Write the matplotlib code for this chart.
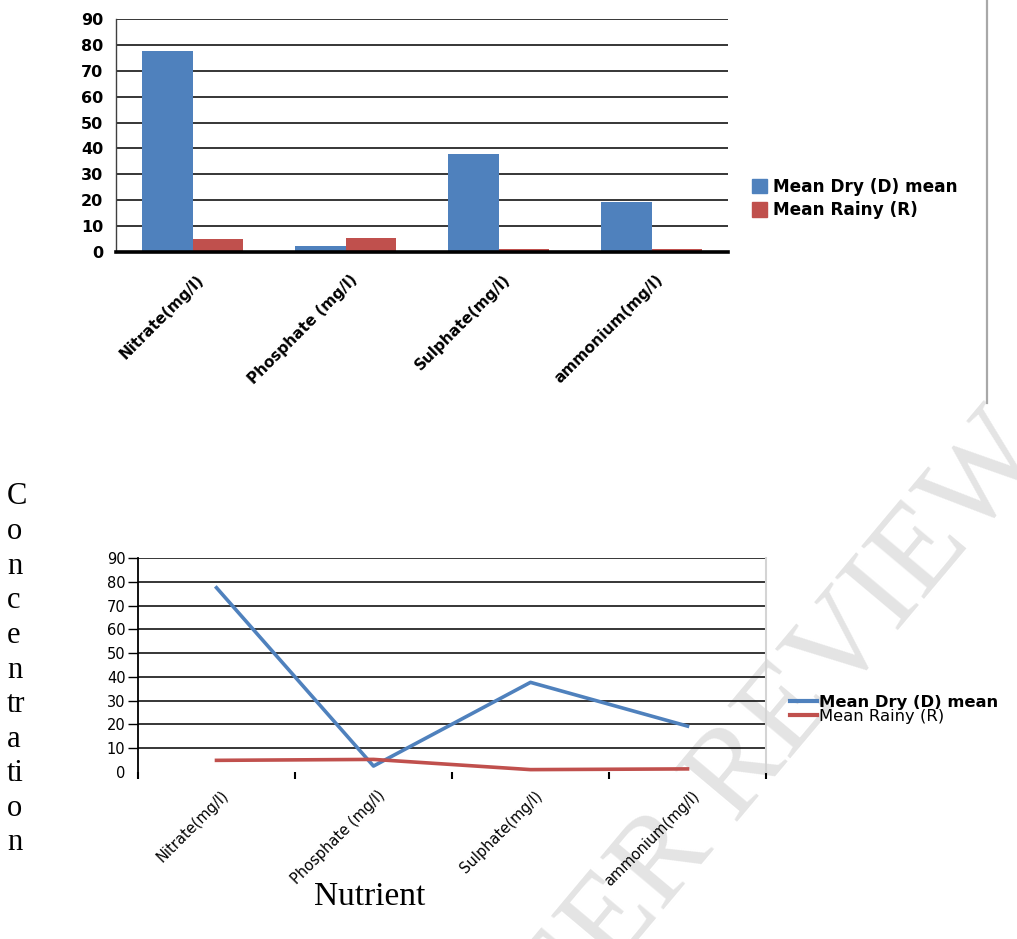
import matplotlib
matplotlib.use("Agg")
import matplotlib.pyplot as plt
import numpy as np
from matplotlib.lines import Line2D
from matplotlib.patches import Patch
from matplotlib.transforms import ScaledTranslation

# ---- data ----
nutrients = ["Nitrate(mg/l)", "Phosphate (mg/l)", "Sulphate(mg/l)", "ammonium(mg/l)"]
dry_mean = [77.5, 2.5, 37.7, 19.3]
rainy_mean = [4.9, 5.3, 1.0, 1.3]
series_names = ["Mean Dry (D) mean", "Mean Rainy (R)"]
y_ticks = [0, 10, 20, 30, 40, 50, 60, 70, 80, 90]
axis_letters = ["C", "o", "n", "c", "e", "n", "tr", "a", "ti", "o", "n"]
x_title = "Nutrient"
watermark = "PEER REVIEW"

BLUE = "#4F81BD"
RED = "#C0504D"
W, H = 1017, 939

fig = plt.figure(figsize=(W / 100, H / 100), dpi=100)


def fx(px):
    return px / W


def fy(py):
    return 1 - py / H


def px_offset(dx, dy):
    # offset in pixels (dy positive = downwards)
    return ScaledTranslation(dx / 100, -dy / 100, fig.dpi_scale_trans)


# ---- watermark ----
fig.text(fx(760), fy(748), watermark, fontsize=90, family="Liberation Serif",
         color="#e4e4e4", rotation=50, ha="center", va="center",
         rotation_mode="anchor", zorder=-5)

x = np.arange(len(nutrients))

# ---- top: grouped bar chart ----
ax1 = fig.add_axes([fx(116), fy(252), fx(728) - fx(116), fy(19) - fy(252)])
ax1.set_facecolor("none")
bw = 0.33
ax1.bar(x - bw / 2, dry_mean, bw, color=BLUE, zorder=3)
ax1.bar(x + bw / 2, rainy_mean, bw, color=RED, zorder=3)
ax1.set_xlim(-0.5, 3.5)
ax1.set_ylim(0, 90)
for v in y_ticks[1:]:
    ax1.axhline(v, color="black", lw=1.1, zorder=1)
ax1.set_yticks(y_ticks)
ax1.tick_params(axis="y", length=0, pad=9, labelsize=11.5)
for t in ax1.get_yticklabels():
    t.set_fontweight("bold")
ax1.set_xticks([])
for s in ("top", "right"):
    ax1.spines[s].set_visible(False)
ax1.spines["left"].set_color("#404040")
ax1.spines["left"].set_linewidth(1.0)
ax1.spines["bottom"].set_linewidth(2.6)
ax1.spines["bottom"].set_zorder(5)
for xi, name in zip(x, nutrients):
    ax1.text(xi, 0, name, transform=ax1.get_xaxis_transform() + px_offset(4, 20),
             rotation=45, ha="right", va="top", rotation_mode="anchor",
             fontsize=11, fontweight="bold")

leg1 = fig.legend(handles=[Patch(color=BLUE), Patch(color=RED)], labels=series_names,
                  loc="upper left", bbox_to_anchor=(fx(752), fy(178)),
                  frameon=False, fontsize=12.2, borderpad=0, borderaxespad=0,
                  handlelength=0.9, handleheight=0.95, handletextpad=0.35,
                  labelspacing=0.3)
for t in leg1.get_texts():
    t.set_fontweight("bold")

# ---- bottom: line chart ----
ax2 = fig.add_axes([fx(138), fy(772), fx(766) - fx(138), fy(558) - fy(772)])
ax2.set_facecolor("none")
ax2.plot(x, dry_mean, color=BLUE, lw=2.6, zorder=3)
ax2.plot(x, rainy_mean, color=RED, lw=2.6, zorder=3)
ax2.set_xlim(-0.5, 3.5)
ax2.set_ylim(0, 90)
for v in y_ticks[1:]:
    ax2.axhline(v, color="black", lw=1.1, zorder=1)
ax2.set_yticks(y_ticks)
ax2.tick_params(axis="y", length=7, width=1.0, pad=2, labelsize=10.5)
ax2.yaxis.get_major_ticks()[0].tick1line.set_visible(False)
ax2.set_xticks([])
ax2.set_xticks(np.arange(-0.5, 4.0, 1.0), minor=True)
ax2.tick_params(axis="x", which="minor", length=5, width=1.5, direction="out")
ax2.xaxis.set_minor_formatter(plt.NullFormatter())
ax2.spines["top"].set_visible(False)
ax2.spines["bottom"].set_visible(False)
ax2.spines["left"].set_color("black")
ax2.spines["left"].set_linewidth(1.3)
ax2.spines["right"].set_color("#d4d4d4")
ax2.spines["right"].set_linewidth(1.5)
for xi, name in zip(x, nutrients):
    ax2.text(xi, 0, name, transform=ax2.get_xaxis_transform() + px_offset(4, 16),
             rotation=45, ha="right", va="top", rotation_mode="anchor",
             fontsize=10.5)

leg2 = fig.legend(handles=[Line2D([], [], color=BLUE, lw=3), Line2D([], [], color=RED, lw=3)],
                  labels=series_names, loc="upper left",
                  bbox_to_anchor=(fx(790), fy(695)), frameon=False, fontsize=11.8,
                  borderpad=0, borderaxespad=0, handlelength=1.65,
                  handletextpad=0.1, labelspacing=-0.05)
leg2.get_texts()[0].set_fontweight("bold")

# ---- axis titles ----
for i, letters in enumerate(axis_letters):
    fig.text(fx(7), fy(497 + i * 34.6), letters, family="Liberation Serif",
             fontsize=22, ha="left", va="center")
fig.text(fx(370), fy(897), x_title, family="Liberation Serif", fontsize=24,
         ha="center", va="center")

# page rule on the right
fig.add_artist(Line2D([fx(987), fx(987)], [fy(0), fy(403)], color="#a8a8a8", lw=1.6))

fig.savefig("out.png", dpi=100)
